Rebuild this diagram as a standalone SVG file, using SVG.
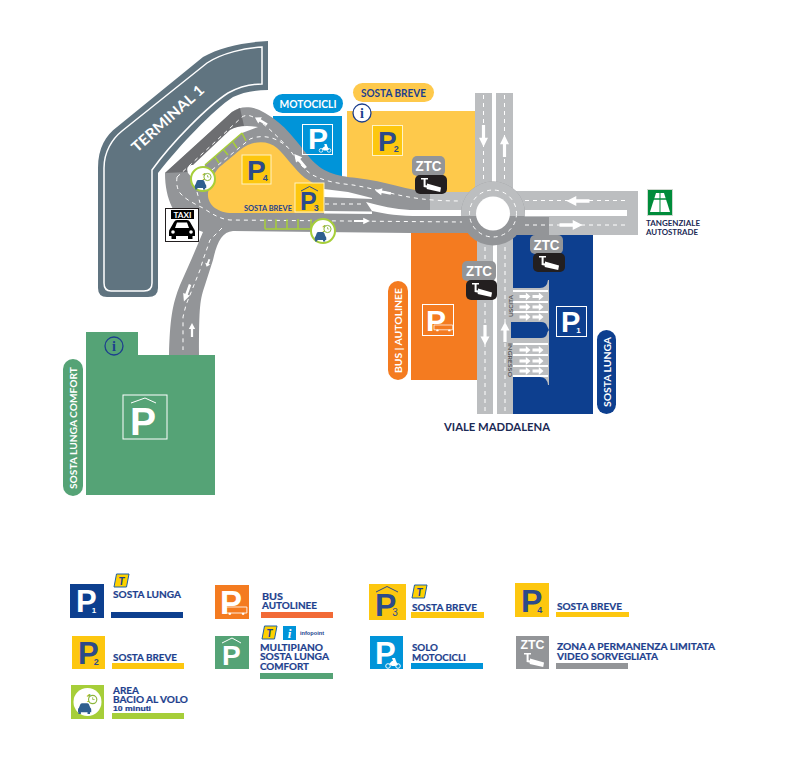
<svg xmlns="http://www.w3.org/2000/svg" width="786" height="760" viewBox="0 0 786 760">
<style>
text{font-family:Lato,"Open Sans","Liberation Sans",sans-serif;font-weight:700}
.d{fill:none;stroke:#fff;stroke-width:1;stroke-dasharray:4 4}
.a{fill:#fff}
.n{fill:#1d3f8e}
.lg{font-size:10px;fill:#1d3f8e;stroke:#1d3f8e;stroke-width:.2}
.w{fill:#fff}
.pb{font-family:"Liberation Sans",Arial,sans-serif;font-weight:700}
.bx{fill:none;stroke:#fff;stroke-width:1}
.yb{stroke:#fff3c4;stroke-width:1;fill:#fdc70f}
.nv{fill:#2d4a8a}
</style>
<defs>
<polygon id="ar" points="0,-10 4.500,-1.500 1.600,-1.500 1.600,10 -1.600,10 -1.600,-1.500 -4.500,-1.500"/>
<g id="cam"><path d="M6 3h7v1.600h-2.400v5.600l2 .4v2.200l-4-.7V4.600H6z" fill="#fff"/><path d="M12 8.500l14 4-.8 4.500-13.500-3z" fill="#fff"/></g>
<g id="car"><path d="M-7 2l2-5q.5-1 2-1h6q1.500 0 2 1l2 5q1 .5 1 2v3h-1.500v2h-3V7h-8v2h-3V7H-8V4q0-1.500 1-2z"/></g>
<g id="bacio"><use href="#car" fill="#2f5f8f" transform="translate(-2.500 3) scale(.72)"/><text x="-1" y="-.5" font-size="9" fill="#8cb63c">1</text><circle cx="4.500" cy="-3" r="3.600" fill="#fff" stroke="#8cb63c" stroke-width="1"/><path d="M4.500-5v2h1.700" fill="none" stroke="#8cb63c" stroke-width=".7"/></g>
<g id="tsign"><path d="M2.500 0H15l-2.500 13H0z" fill="#ffd100" stroke="#1d5fa8" stroke-width="1"/><text x="7.500" y="10.500" font-size="11" text-anchor="middle" font-style="italic" fill="#1d3f8e">T</text></g>
<g id="moto"><circle cx="-5" cy="3" r="2.300" fill="none" stroke="#fff" stroke-width="1"/><circle cx="5" cy="3" r="2.300" fill="none" stroke="#fff" stroke-width="1"/><path d="M-4 1l3-3h4l2 4-3 1h-3zM-1-5h3l1 3h-3z" fill="#fff"/></g>
<g id="bus"><path d="M0 0h22v8H0z" fill="none" stroke="#fff" stroke-width="1"/><circle cx="4" cy="9" r="1.500" class="w"/><circle cx="18" cy="9" r="1.500" class="w"/></g>
</defs>

<g id="areas">
<rect id="area-motocicli" x="273" y="116" width="69" height="70" fill="#0094d9"/>
<rect id="area-p2" x="347" y="111" width="128" height="85" fill="#fec94b"/>
<rect id="area-orange" x="411" y="232" width="68" height="148" fill="#f47b20"/>
<rect id="area-blue" x="511" y="235" width="82" height="179" fill="#0d3f8f"/>
</g>

<g id="terminal">
<path d="M268 41L268 90Q247 90 233 97C213 110 180 145 158 173L158 288Q158 297 148 297L107 297Q98 297 98 288L98 168C98 148 106 135 117 127L203 57C220 47 245 42 268 41Z" fill="#607480"/>
<path d="M262 47L262 84Q244 84 228 93C208 106 172 142 152 170L152 283Q152 291 144 291L111 291Q104 291 104 283L104 168C104 152 112 139 122 131L207 63C222 53 245 48 262 47Z" fill="none" stroke="#fff" stroke-width="1.500"/>
<text transform="translate(137 153) rotate(-42)" font-size="14.500" class="w" textLength="92" lengthAdjust="spacingAndGlyphs">TERMINAL 1</text>
</g>

<g id="connectors">
<rect x="475" y="93" width="17" height="95" fill="#bcbec0"/>
<rect x="496" y="93" width="17" height="95" fill="#bcbec0"/>
<rect x="477" y="232" width="16" height="182" fill="#bcbec0"/>
<rect x="497" y="232" width="16" height="182" fill="#bcbec0"/>
<path d="M510 191H638V235H510z" fill="#bcbec0"/>
<rect x="525" y="210" width="102" height="6" fill="#fff"/>
<rect x="510" y="217" width="39" height="18" fill="#939598"/>
<path d="M165 173L232 112C240 106 252 105 265 113C285 124 297 142 310 158C322 172 335 176 357 178C385 181 410 191 430 192L470 192L470 233L410 233L233 231C222 232 217 242 213 260L205 285C200 300 199 305 199 355L169 355C170 320 172 305 180 285L192 258L203 232L190 227C175 218 165 200 165 173Z" fill="#939598"/>
<path d="M165 173L232 112L240 108L244 126L188 172Z" fill="#6d6e71"/>
<path d="M430 192H470V210H430z" fill="#bcbec0"/>
<path d="M188 173C186 168 188 165 193 165L230 130Q240 124 258 127L242 133L205 165L198 185Z" fill="#fff"/>
<path d="M324 189L348 192L372 198L372 199L324 197Z" fill="#fff"/>
<path d="M324 211L372 211.500L372 214L324 213.500Z" fill="#fff"/>
<path d="M366 202C380 206 395 209 410 210L465 210L465 216L420 216C400 216 385 214 372 211Z" fill="#fff"/>
<circle cx="493" cy="213.500" r="32" fill="#939598"/>
<path d="M461 213.500A32 32 0 0 1 525 213.500L525 216L461 216Z" fill="#bcbec0"/>
<circle cx="493" cy="213.500" r="17" fill="#fff"/>
<circle cx="493" cy="213.500" r="23.500" class="d"/>
<path class="d" d="M177 177L242 117C250 112 258 120 267 127C278 137 284 143 290 150C300 165 308 174 317 177C330 183 345 184 353 185C370 188 385 192 390 193C410 198 430 201 462 201"/>
<path class="d" d="M212 170L250 139C262 134 277 137 287 147"/>
<path class="d" d="M177 177C176 186 178 190 180 193C186 200 195 204 203 208C212 214 220 219 230 220L462 222"/>
<path class="d" d="M197 192L200 203"/>
<path class="d" d="M325 204L365 204"/>
<path class="d" d="M525 200.500H625M525 225H625"/>
<path class="d" d="M483.500 95V180M504.500 95V180"/>
<path class="d" d="M485 247V414M505 247V414"/>
<path class="d" d="M222 228L210 240L203 260L200 270L186 305L183 317L183 350"/>
<g class="a">
<use href="#ar" transform="translate(483.500 136) rotate(180) scale(1 1.100)"/>
<use href="#ar" transform="translate(504.500 146) scale(1 1.100)"/>
<use href="#ar" transform="translate(578 201) rotate(-90) scale(1.100 1.150)"/>
<use href="#ar" transform="translate(571 225) rotate(90) scale(1.100 1.150)"/>
<use href="#ar" transform="translate(383 192) rotate(-80) scale(.8 .8)"/>
<use href="#ar" transform="translate(362 221) rotate(90) scale(.7 .8)"/>
<use href="#ar" transform="translate(300 161) rotate(-40) scale(.9 .9)"/>
<use href="#ar" transform="translate(261 121) rotate(-60) scale(.8 .7)"/>
<use href="#ar" transform="translate(485 335) rotate(180)"/>
<use href="#ar" transform="translate(505 332)"/>
<use href="#ar" transform="translate(192 330) scale(.7 .7)"/>
<use href="#ar" transform="translate(187 293) rotate(200) scale(.8 .9)"/>
<use href="#ar" transform="translate(208 263) rotate(200) scale(.6 .4)"/>
</g>
<g id="crosswalk">
<path d="M513 288H540Q547 288 548 280H549V385H548Q547 377 540 377H513Z" fill="#bcbec0"/>
<path d="M513 291H548M513 302H548M513 312H548M513 344H548M513 355H548M513 366H548M513 376H548" stroke="#fff" stroke-width="2"/>
<path d="M511 322H541Q546 322 547 326L549 330Q547 332 547 334Q546 338 541 338H511Z" fill="#0d3f8f"/>
<g class="a">
<use href="#ar" transform="translate(525 296.500) rotate(90) scale(.9 .55)"/><use href="#ar" transform="translate(538 296.500) rotate(90) scale(.9 .55)"/>
<use href="#ar" transform="translate(525 307) rotate(90) scale(.9 .55)"/><use href="#ar" transform="translate(538 307) rotate(90) scale(.9 .55)"/>
<use href="#ar" transform="translate(525 317) rotate(90) scale(.9 .55)"/><use href="#ar" transform="translate(538 317) rotate(90) scale(.9 .55)"/>
<use href="#ar" transform="translate(525 350) rotate(90) scale(.9 .55)"/><use href="#ar" transform="translate(538 350) rotate(90) scale(.9 .55)"/>
<use href="#ar" transform="translate(525 361) rotate(90) scale(.9 .55)"/><use href="#ar" transform="translate(538 361) rotate(90) scale(.9 .55)"/>
<use href="#ar" transform="translate(525 371) rotate(90) scale(.9 .55)"/><use href="#ar" transform="translate(538 371) rotate(90) scale(.9 .55)"/>
</g>
<text transform="translate(513 317) rotate(-90)" font-size="6" fill="#58595b" textLength="22" lengthAdjust="spacingAndGlyphs">USCITA</text>
<text transform="translate(508 343) rotate(90)" font-size="6" fill="#58595b" textLength="34" lengthAdjust="spacingAndGlyphs">INGRESSO</text>
</g>
</g>

<g id="area-p4">
<path d="M208 193C210 180 215 170 222 165L240 150C252 140 268 140 277 148C285 155 295 170 305 178L324 190V213H232C218 213 207 205 208 193Z" fill="#fec94b"/>
<text x="244" y="211" font-size="7.500" class="n" textLength="48" lengthAdjust="spacingAndGlyphs">SOSTA BREVE</text>
<rect x="242" y="155" width="29" height="29" class="yb"/>
<text x="247" y="180" font-size="28" class="pb nv">P<tspan font-size="9" dx="-3" dy="1">4</tspan></text>
</g>

<g id="bacio-top" fill="none" stroke="#a6ce39" stroke-width="1.500">
<path d="M205 165L242 133M215 157L219 163M223 149L228 155M233 142L237 148M242 133L246 141"/>
<circle cx="203" cy="179" r="12" fill="#fff" stroke-width="2"/>
<use href="#bacio" transform="translate(203 180)" stroke="none"/>
</g>
<g id="bacio-bottom" fill="none" stroke="#a6ce39" stroke-width="1.500">
<path d="M265 229H312M265 219V229M276 219V229M287 219V229M298 219V229M311 219V229"/>
<circle cx="323" cy="231" r="12" fill="#fff" stroke-width="2"/>
<use href="#bacio" transform="translate(323 232)" stroke="none"/>
</g>

<g id="p3-map">
<rect x="295" y="183" width="29" height="29" class="yb"/>
<path d="M301 191L309.500 186.500L318 191" fill="none" stroke="#2d4a8a" stroke-width="1"/>
<text x="300" y="210" font-size="25" class="pb nv">P<tspan font-size="9" dx="-3" dy="1">3</tspan></text>
</g>

<g id="taxi">
<rect x="165.500" y="208.500" width="33" height="33" fill="#fff" stroke="#231f20" stroke-width="1"/>
<rect x="171" y="210" width="23" height="9" fill="#000"/>
<text x="182.500" y="217.500" font-size="8" class="w" text-anchor="middle" textLength="18" lengthAdjust="spacingAndGlyphs">TAXI</text>
<path d="M170 229L174 222Q175 220 177 220H187Q189 220 190 222L194 229Q195 230 195 232V236H192.500V239H188V236H176V239H171.500V236H169V232Q169 230 170 229Z" fill="#000"/>
<path d="M175 228L177 222.500H187L189 228Z" fill="#fff"/>
<circle cx="173" cy="232" r="1.800" class="w"/><circle cx="191" cy="232" r="1.800" class="w"/>
</g>

<g id="motocicli">
<rect x="273" y="94" width="70" height="19" rx="9.500" fill="#0094d9"/>
<text x="308" y="108" font-size="10.500" class="w" text-anchor="middle" textLength="57" lengthAdjust="spacingAndGlyphs">MOTOCICLI</text>
<rect x="302.500" y="124.500" width="30" height="30" class="bx"/>
<text x="308" y="149" font-size="30" class="w pb">P</text>
<use href="#moto" transform="translate(325 148) scale(.8)"/>
</g>

<g id="sosta-breve-p2">
<rect x="353" y="83" width="81" height="19" rx="9.500" fill="#fec94b"/>
<text x="393.500" y="97" font-size="10.500" class="n" text-anchor="middle" textLength="65" lengthAdjust="spacingAndGlyphs">SOSTA BREVE</text>
<circle cx="362" cy="113" r="9" fill="#fff" stroke="#1d3f8e" stroke-width="1.300"/>
<text x="362" y="118" font-size="14" class="n" text-anchor="middle" style="font-family:'Liberation Serif',serif">i</text>
<rect x="372.500" y="125.500" width="30" height="30" class="yb"/>
<text x="378" y="151" font-size="28" class="pb nv">P<tspan font-size="9" dx="-3" dy="1">2</tspan></text>
</g>

<g id="ztc-1">
<rect x="412" y="156" width="33" height="20" rx="5" fill="#939598"/>
<text x="428.500" y="171" font-size="14" class="w pb" text-anchor="middle" textLength="26" lengthAdjust="spacingAndGlyphs">ZTC</text>
<rect x="415" y="175" width="32" height="19" rx="5" fill="#231f20"/>
<use href="#cam" transform="translate(415 175)"/>
</g>
<g id="ztc-2">
<rect x="530" y="235" width="33" height="19" rx="5" fill="#939598"/>
<text x="546.500" y="250" font-size="14" class="w pb" text-anchor="middle" textLength="26" lengthAdjust="spacingAndGlyphs">ZTC</text>
<rect x="533" y="253" width="32" height="19" rx="5" fill="#231f20"/>
<use href="#cam" transform="translate(533 253)"/>
</g>
<g id="ztc-3">
<rect x="462" y="261" width="34" height="20" rx="5" fill="#939598"/>
<text x="479" y="276" font-size="14" class="w pb" text-anchor="middle" textLength="26" lengthAdjust="spacingAndGlyphs">ZTC</text>
<rect x="466" y="280" width="31" height="20" rx="5" fill="#231f20"/>
<use href="#cam" transform="translate(466 280)"/>
</g>

<g id="autostrade">
<rect x="647.500" y="189.500" width="25" height="26" fill="#008c3a" stroke="#cfd8cf"/>
<path d="M656 193H664L670 212H650Z" fill="#fff"/>
<path d="M659.500 193H660.500V212H659.500Z" fill="#008c3a"/><path d="M651 199H669" stroke="#008c3a" stroke-width="1.500"/>
<text font-size="8" fill="#1b2a55"><tspan x="646" y="226" textLength="54" lengthAdjust="spacingAndGlyphs">TANGENZIALE</tspan><tspan x="646" y="235" textLength="52" lengthAdjust="spacingAndGlyphs">AUTOSTRADE</tspan></text>
</g>

<g id="p1-map">
<rect x="556.500" y="306.500" width="30" height="30" class="bx"/>
<text x="561" y="332" font-size="29" class="w pb">P<tspan font-size="8" dx="-4" dy="1">1</tspan></text>
<rect x="597" y="330" width="19" height="84" rx="9.500" fill="#0d3f8f"/>
<text transform="translate(611 407) rotate(-90)" font-size="10" class="w" textLength="70" lengthAdjust="spacingAndGlyphs">SOSTA LUNGA</text>
</g>

<g id="bus-map">
<rect x="422.500" y="304.500" width="31" height="31" class="bx"/>
<text x="426" y="331" font-size="30" class="w pb">P</text>
<use href="#bus" transform="translate(434 325) scale(.85 .6)"/>
<rect x="388" y="281" width="20" height="99" rx="10" fill="#f47b20"/>
<text transform="translate(402 373) rotate(-90)" font-size="10" class="w" textLength="85" lengthAdjust="spacingAndGlyphs">BUS | AUTOLINEE</text>
</g>

<text id="viale" x="444" y="431" font-size="11" fill="#1b2a55" textLength="106" lengthAdjust="spacingAndGlyphs">VIALE MADDALENA</text>

<g id="comfort">
<path d="M86 332H138V355H215V495H86Z" fill="#55a376"/>
<circle cx="114" cy="346" r="9" fill="none" stroke="#1d3f8e" stroke-width="1.300"/>
<text x="114" y="351" font-size="14" class="n" text-anchor="middle" style="font-family:'Liberation Serif',serif">i</text>
<rect x="123" y="395" width="44" height="44" class="bx"/>
<path d="M131 403L145 398L156 403" fill="none" stroke="#fff" stroke-width="1"/>
<text x="130" y="435" font-size="39" class="w pb">P</text>
<rect x="63" y="359" width="20" height="137" rx="10" fill="#55a376"/>
<text transform="translate(77 489) rotate(-90)" font-size="10" class="w" textLength="122" lengthAdjust="spacingAndGlyphs">SOSTA LUNGA COMFORT</text>
</g>

<g id="legend-p1">
<rect x="70" y="584" width="34" height="34" fill="#0d3f8f"/>
<text x="76" y="612" font-size="31" class="w pb">P<tspan font-size="8" dx="-5" dy="1">1</tspan></text>
<use href="#tsign" transform="translate(114 574)"/>
<text x="113" y="598" class="lg" textLength="68" lengthAdjust="spacingAndGlyphs">SOSTA LUNGA</text>
<rect x="111" y="612" width="72" height="6" fill="#0d3f8f"/>
</g>
<g id="legend-p2">
<rect x="72" y="636" width="33" height="33" fill="#fdc70f"/>
<text x="78" y="664" font-size="31" class="pb nv">P<tspan font-size="9" dx="-5" dy="1">2</tspan></text>
<text x="113" y="661" class="lg" textLength="64" lengthAdjust="spacingAndGlyphs">SOSTA BREVE</text>
<rect x="112" y="663" width="72" height="6" fill="#fdc70f"/>
</g>
<g id="legend-bacio">
<rect x="71" y="685" width="33" height="34" fill="#a6ce39"/>
<circle cx="87.500" cy="702" r="14" fill="#fff"/>
<use href="#bacio" transform="translate(87.500 703) scale(1.150)"/>
<text class="lg"><tspan x="113" y="694" textLength="26" lengthAdjust="spacingAndGlyphs">AREA</tspan><tspan x="113" y="703" textLength="75" lengthAdjust="spacingAndGlyphs">BACIO AL VOLO</tspan><tspan x="113" y="711" font-size="7" class="pb" textLength="38" lengthAdjust="spacingAndGlyphs">10 minuti</tspan></text>
<rect x="112" y="713" width="72" height="6" fill="#a6ce39"/>
</g>
<g id="legend-bus">
<rect x="215" y="585" width="34" height="34" fill="#f47b20"/>
<text x="220" y="614" font-size="33" class="w pb">P</text>
<use href="#bus" transform="translate(226 607) scale(.95 .75)"/>
<text class="lg"><tspan x="262" y="600" textLength="21" lengthAdjust="spacingAndGlyphs">BUS</tspan><tspan x="262" y="609" textLength="55" lengthAdjust="spacingAndGlyphs">AUTOLINEE</tspan></text>
<rect x="261" y="612" width="72" height="6" fill="#f26a36"/>
</g>
<g id="legend-comfort">
<rect x="215" y="636" width="34" height="33" fill="#55a376"/>
<path d="M222 643L232 638L241 643" fill="none" stroke="#fff" stroke-width="1"/>
<text x="222" y="665" font-size="28" class="w pb">P</text>
<use href="#tsign" transform="translate(262 626)"/>
<rect x="283" y="626" width="13" height="14" fill="#0094d9"/>
<text x="289.500" y="638" font-size="13" text-anchor="middle" font-style="italic" class="w" style="font-family:'Liberation Serif',serif">i</text>
<text x="300" y="635" font-size="6" class="pb n" textLength="24" lengthAdjust="spacingAndGlyphs">infopoint</text>
<text class="lg"><tspan x="260" y="651" textLength="63" lengthAdjust="spacingAndGlyphs">MULTIPIANO</tspan><tspan x="260" y="660" textLength="69" lengthAdjust="spacingAndGlyphs">SOSTA LUNGA</tspan><tspan x="260" y="670" textLength="49" lengthAdjust="spacingAndGlyphs">COMFORT</tspan></text>
<rect x="260" y="673" width="73" height="6" fill="#55a376"/>
</g>
<g id="legend-p3">
<rect x="369" y="584" width="37" height="36" fill="#fdc70f"/>
<path d="M376 592L387 586.500L398 592" fill="none" stroke="#2d4a8a" stroke-width="1"/>
<text x="375" y="616" font-size="32" class="pb nv">P<tspan font-size="10" dx="-4" style="font-weight:400">3</tspan></text>
<use href="#tsign" transform="translate(412 585)"/>
<text x="412" y="611" class="lg" textLength="65" lengthAdjust="spacingAndGlyphs">SOSTA BREVE</text>
<rect x="411" y="612" width="73" height="6" fill="#fdc70f"/>
</g>
<g id="legend-p4">
<rect x="515" y="583" width="34" height="34" fill="#fdc70f"/>
<text x="521" y="612" font-size="32" class="pb nv">P<tspan font-size="9" dx="-5" dy="1">4</tspan></text>
<text x="557" y="610" class="lg" textLength="65" lengthAdjust="spacingAndGlyphs">SOSTA BREVE</text>
<rect x="556" y="612" width="73" height="5" fill="#fdc70f"/>
</g>
<g id="legend-moto">
<rect x="370" y="636" width="33" height="33" fill="#0094d9"/>
<text x="375" y="664" font-size="31" class="w pb">P</text>
<use href="#moto" transform="translate(393 663)"/>
<text class="lg"><tspan x="412" y="651" textLength="26" lengthAdjust="spacingAndGlyphs">SOLO</tspan><tspan x="412" y="661" textLength="54" lengthAdjust="spacingAndGlyphs">MOTOCICLI</tspan></text>
<rect x="411" y="663" width="72" height="6" fill="#0094d9"/>
</g>
<g id="legend-ztc">
<rect x="516" y="636" width="33" height="33" fill="#939598"/>
<text x="532.500" y="649" font-size="12" class="w pb" text-anchor="middle" textLength="24" lengthAdjust="spacingAndGlyphs">ZTC</text>
<use href="#cam" transform="translate(518 650)"/>
<text class="lg"><tspan x="557" y="650" textLength="158" lengthAdjust="spacingAndGlyphs">ZONA A PERMANENZA LIMITATA</tspan><tspan x="557" y="660" textLength="101" lengthAdjust="spacingAndGlyphs">VIDEO SORVEGLIATA</tspan></text>
<rect x="556" y="663" width="72" height="6" fill="#939598"/>
</g>
</svg>
